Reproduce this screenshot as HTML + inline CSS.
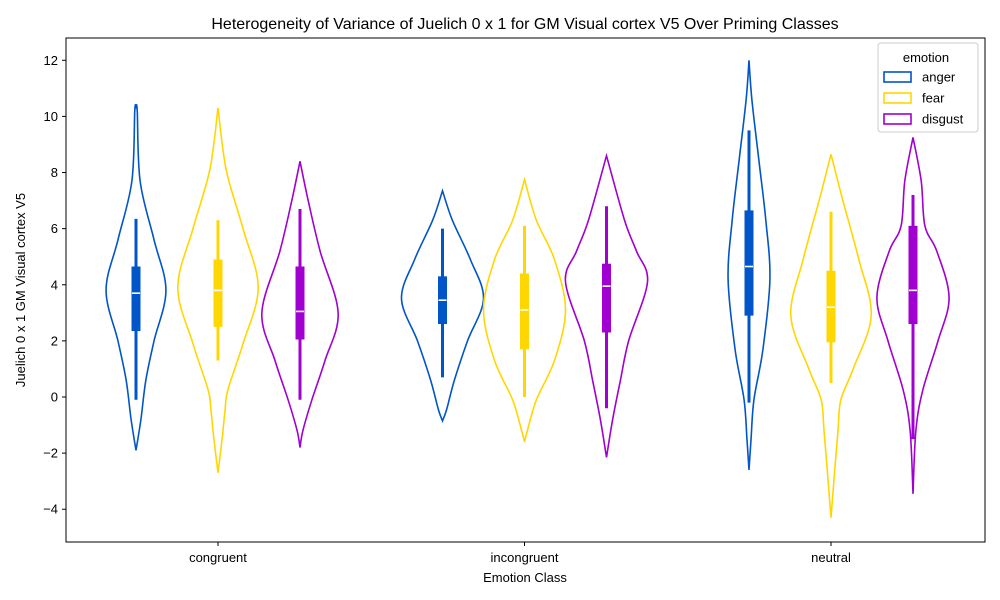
<!DOCTYPE html>
<html><head><meta charset="utf-8"><style>
body{margin:0;background:#fff;}
svg{display:block;font-family:"Liberation Sans","DejaVu Sans",sans-serif;}
</style></head><body>
<svg id="chart" width="1000" height="600">
<text x="525" y="29" text-anchor="middle" font-size="16">Heterogeneity of Variance of Juelich 0 x 1 for GM Visual cortex V5 Over Priming Classes</text>
<rect x="66" y="38" width="919" height="504" fill="none" stroke="#000" stroke-width="1"/>
<g id="yticks"></g>
<g id="xticks"></g>
<g id="violins"></g>
<text x="525" y="582" text-anchor="middle" font-size="13">Emotion Class</text>
<text transform="translate(25,290) rotate(-90)" text-anchor="middle" font-size="13">Juelich 0 x 1 GM Visual cortex V5</text>
<g>
<rect x="878" y="43" width="100" height="89" rx="3" fill="#fff" stroke="#ccc"/>
<text x="926" y="62" text-anchor="middle" font-size="13">emotion</text>
<g id="legend-entries"></g>
</g>
</svg>
<script>
const categories = ["congruent","incongruent","neutral"];
const hues = ["anger","fear","disgust"];
const yTicks = [-4,-2,0,2,4,6,8,10,12];
// violin profiles: [value, relative half-width 0..1], per category/hue
const profiles = [
 [ [[10.3,0],[10.2,0.03],[7.7,0.1],[5.6,0.44],[3.8,0.73],[2.0,0.44],[0.6,0.24],[-0.8,0.12],[-1.9,0]],
   [[10.3,0],[8.1,0.2],[6.0,0.61],[3.9,0.98],[1.9,0.61],[0.25,0.24],[-0.5,0.17],[-1.5,0.1],[-2.7,0]],
   [[8.4,0],[7.0,0.2],[5.2,0.49],[3.0,0.93],[1.3,0.61],[-0.1,0.29],[-1.2,0.07],[-1.8,0]] ],
 [ [[7.35,0],[6.3,0.24],[4.9,0.68],[3.5,1.0],[2.0,0.61],[0.6,0.29],[-0.45,0.1],[-0.85,0]],
   [[7.75,0],[6.3,0.29],[4.9,0.73],[3.1,1.0],[1.3,0.73],[-0.1,0.29],[-1.2,0.07],[-1.6,0]],
   [[8.6,0],[6.3,0.44],[5.2,0.73],[4.1,1.0],[2.0,0.54],[0.6,0.34],[-0.8,0.15],[-2.15,0]] ],
 [ [[12.0,0],[10.6,0.07],[8.45,0.24],[6.3,0.41],[4.2,0.51],[1.7,0.34],[-0.1,0.12],[-1.5,0.05],[-2.6,0]],
   [[8.65,0],[7.0,0.29],[4.9,0.68],[2.9,0.98],[1.0,0.54],[-0.1,0.24],[-1.2,0.17],[-3.0,0.07],[-4.3,0]],
   [[9.25,0],[7.7,0.2],[6.1,0.29],[5.2,0.58],[3.55,0.88],[2.0,0.61],[0.25,0.24],[-1.2,0.07],[-3.45,0]] ]
];
// box stats: [whiskerLow, q1, median, q3, whiskerHigh]
const boxStats = [
 [[-0.1,2.35,3.7,4.65,6.35],[1.3,2.5,3.8,4.9,6.3],[-0.1,2.05,3.05,4.65,6.7]],
 [[0.7,2.6,3.45,4.3,6.0],[0,1.7,3.1,4.4,6.1],[-0.4,2.3,3.95,4.75,6.8]],
 [[-0.2,2.9,4.65,6.65,9.5],[0.5,1.95,3.2,4.5,6.6],[-1.5,2.6,3.8,6.1,7.2]]
];
const colors = ["#0055c8","#ffd700","#a000d0"];
const NS="http://www.w3.org/2000/svg";
const y = v => 397 - v*28.06;
const xCat = i => 218 + i*306.5;
const xHue = (i,j) => xCat(i) + (j-1)*82;
const maxHW = 41;
function mk(tag, attrs, parent){const e=document.createElementNS(NS,tag);for(const k in attrs)e.setAttribute(k,attrs[k]);parent.appendChild(e);return e;}
const yt=document.getElementById('yticks');
yTicks.forEach(t=>{
  const l=mk('line',{x1:62,x2:66,y1:y(t),y2:y(t),stroke:'#000'},yt);
  
  
  const tx=mk('text',{x:58,y:y(t)+4.5,'text-anchor':'end','font-size':13},yt);
  tx.textContent=(t<0?'\u2212':'')+Math.abs(t);
  
  
});
const xt=document.getElementById('xticks');
categories.forEach((c,i)=>{
  const l=mk('line',{x1:xCat(i),x2:xCat(i),y1:542,y2:546,stroke:'#000'},xt);
  
  
  const tx=mk('text',{x:xCat(i),y:562,'text-anchor':'middle','font-size':13},xt);
  tx.textContent=c;
  
  
});
function smooth(pts){
  let d='M'+pts[0][0]+','+pts[0][1];
  for(let i=0;i<pts.length-1;i++){
    const p0=pts[Math.max(i-1,0)],p1=pts[i],p2=pts[i+1],p3=pts[Math.min(i+2,pts.length-1)];
    const c1=[p1[0]+(p2[0]-p0[0])/6,p1[1]+(p2[1]-p0[1])/6];
    const c2=[p2[0]-(p3[0]-p1[0])/6,p2[1]-(p3[1]-p1[1])/6];
    d+=' C'+c1[0]+','+c1[1]+' '+c2[0]+','+c2[1]+' '+p2[0]+','+p2[1];
  }
  return d;
}
const vg=document.getElementById('violins');
categories.forEach((c,i)=>{
  hues.forEach((h,j)=>{
    const cx=xHue(i,j), col=colors[j], prof=profiles[i][j];
    const right=prof.map(p=>[cx+p[1]*maxHW,y(p[0])]);
    const left=prof.map(p=>[cx-p[1]*maxHW,y(p[0])]).reverse();
    const d=smooth(right)+' '+smooth(left).replace('M','L')+' Z';
    const v=mk('path',{d:d,fill:'none',stroke:col,'stroke-width':1.6},vg);
    
    
    const s=boxStats[i][j];
    const w=mk('line',{x1:cx,x2:cx,y1:y(s[0]),y2:y(s[4]),stroke:col,'stroke-width':3},vg);
    
    
    const b=mk('rect',{x:cx-4.5,y:y(s[3]),width:9,height:y(s[1])-y(s[3]),fill:col},vg);
    
    
    const m=mk('line',{x1:cx-4,x2:cx+4,y1:y(s[2]),y2:y(s[2]),stroke:'#fff','stroke-width':1.6},vg);
    
    
  });
});
const lg=document.getElementById('legend-entries');
hues.forEach((h,j)=>{
  const yy=77+j*21;
  const r=mk('rect',{x:884,y:yy-5,width:27,height:10,fill:'none',stroke:colors[j],'stroke-width':1.6},lg);
  
  
  const t=mk('text',{x:922,y:yy+4.5,'font-size':13},lg);
  t.textContent=h;
  
  
});
</script>
</body></html>
